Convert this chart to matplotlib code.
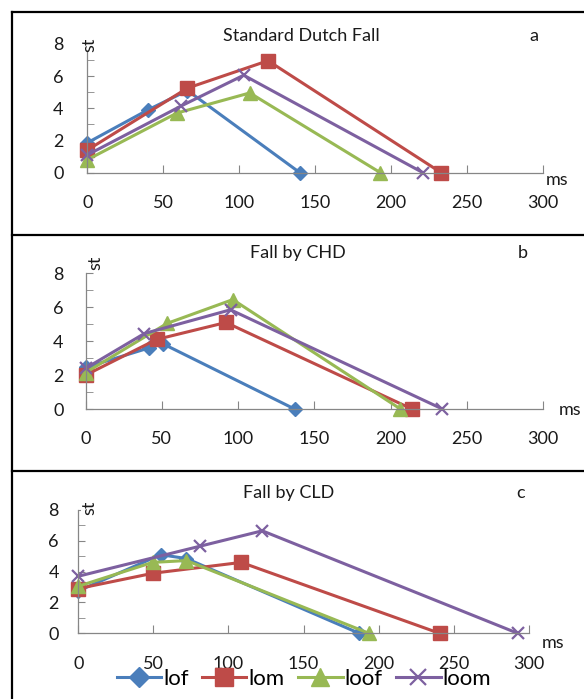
import matplotlib
matplotlib.use("Agg")
import matplotlib.pyplot as plt
from matplotlib.lines import Line2D

plt.rcParams["font.family"] = ["Lato", "DejaVu Sans"]

# Daten ---------------------------------------------------------------------
series = ["lof", "lom", "loof", "loom"]

# a: Standard Dutch Fall
a_lof_x = [0, 40, 66, 140]
a_lof_y = [1.85, 3.9, 5.1, 0]
a_lom_x = [0, 66, 119, 233]
a_lom_y = [1.4, 5.25, 6.95, 0]
a_loof_x = [0, 59, 107, 193]
a_loof_y = [0.8, 3.7, 4.95, 0]
a_loom_x = [0, 62, 103, 221]
a_loom_y = [1.1, 4.15, 6.05, 0]

# b: Fall by CHD
b_lof_x = [0, 41.5, 50.5, 137]
b_lof_y = [2.45, 3.6, 3.85, 0]
b_lom_x = [0, 46.5, 92, 214]
b_lom_y = [2.0, 4.1, 5.1, 0]
b_loof_x = [0, 53.5, 96.5, 206.5]
b_loof_y = [2.15, 5.05, 6.45, 0]
b_loom_x = [0, 38.5, 95, 234]
b_loom_y = [2.4, 4.45, 5.85, 0]

# c: Fall by CLD
c_lof_x = [0, 55, 72, 187]
c_lof_y = [2.75, 5.1, 4.85, 0]
c_lom_x = [0, 50, 108.5, 240.5]
c_lom_y = [2.9, 3.9, 4.6, 0]
c_loof_x = [0, 49.5, 72, 193.5]
c_loof_y = [3.05, 4.6, 4.72, 0]
c_loom_x = [0, 81, 122.5, 292.5]
c_loom_y = [3.7, 5.65, 6.65, 0]

panels = [
    ("Standard Dutch Fall", "a",
     [(a_lof_x, a_lof_y), (a_lom_x, a_lom_y), (a_loof_x, a_loof_y), (a_loom_x, a_loom_y)]),
    ("Fall by CHD", "b",
     [(b_lof_x, b_lof_y), (b_lom_x, b_lom_y), (b_loof_x, b_loof_y), (b_loom_x, b_loom_y)]),
    ("Fall by CLD", "c",
     [(c_lof_x, c_lof_y), (c_lom_x, c_lom_y), (c_loof_x, c_loof_y), (c_loom_x, c_loom_y)]),
]

# Stil (Excel-Farben)
colors = ["#4A7EBB", "#BE4B48", "#98B954", "#7D60A0"]
markers = ["D", "s", "^", "x"]
msizes = [7.5, 9.5, 10, 9]

W, H = 584, 699
fig = plt.figure(figsize=(W / 100, H / 100), dpi=100)

def fx(px):
    return px / W

def fy(py):
    return 1 - py / H

# Achsenlage in Pixeln: (x0, x300, y0, y8)
boxes = [(87.2, 543, 172.7, 43.8), (85.7, 543, 409, 273.3), (78.2, 529, 633.3, 510)]
# Texte: Titel (x, y), Buchstabe (x, y), st (x, y), ms (x, y), Labelabstand
texts = [
    ((301, 36), (534, 36), (89.5, 45), (557, 180), 17),
    ((298, 253), (523, 253), (95, 263), (570, 410), 16),
    ((289, 493), (521, 493), (89, 508), (553, 643), 14),
]

axes = []
for (title, letter, data), (x0, x1, y0, y8), (tpos, lpos, stpos, mspos, ypad) in zip(panels, boxes, texts):
    ax = fig.add_axes([fx(x0), fy(y0), (x1 - x0) / W, (y0 - y8) / H])
    ax.patch.set_alpha(0)
    for (xs, ys), col, mk, ms in zip(data, colors, markers, msizes):
        ax.plot(xs, ys, color=col, lw=2.2, marker=mk, markersize=ms,
                markerfacecolor=col, markeredgecolor=col,
                markeredgewidth=1.6 if mk == "x" else 1, clip_on=False)
    ax.set_xlim(0, 300)
    ax.set_ylim(0, 8)
    ax.set_xticks(range(0, 301, 50))
    ax.set_yticks(range(0, 9, 2))
    ax.set_yticks(range(1, 8, 2), minor=True)
    for s in ["top", "right"]:
        ax.spines[s].set_visible(False)
    for s in ["left", "bottom"]:
        ax.spines[s].set_color("#868686")
        ax.spines[s].set_linewidth(0.9)
    ax.tick_params(axis="x", direction="in", length=6, color="#868686",
                   labelsize=13, pad=16, labelcolor="#1a1a1a")
    ax.tick_params(axis="y", which="both", direction="in", length=5, color="#868686",
                   labelsize=13, pad=ypad, labelcolor="#1a1a1a")
    fig.text(fx(tpos[0]), fy(tpos[1]), title, ha="center", va="center", fontsize=13, color="#1a1a1a")
    fig.text(fx(lpos[0]), fy(lpos[1]), letter, ha="center", va="center", fontsize=13, color="#1a1a1a")
    fig.text(fx(stpos[0]), fy(stpos[1]), "st", ha="center", va="center", rotation=90,
             fontsize=13, color="#1a1a1a", bbox=dict(facecolor="white", edgecolor="none", pad=0))
    fig.text(fx(mspos[0]), fy(mspos[1]), "ms", ha="center", va="center", fontsize=13, color="#1a1a1a")
    axes.append(ax)

# Legende unten (überlappt wie im Original die Achsenbeschriftung)
handles = [Line2D([], [], color=c, lw=2.2, marker=m, markersize=s * 1.3,
                  markerfacecolor=c, markeredgecolor=c,
                  markeredgewidth=1.6 if m == "x" else 1)
           for c, m, s in zip(colors, markers, msizes)]
fig.legend(handles, series, loc="center", bbox_to_anchor=(fx(304), fy(679)), ncol=4,
           frameon=False, fontsize=16, handlelength=2.0, handletextpad=0.1,
           columnspacing=0.6, borderpad=0)

# Rahmenlinien
frame = dict(color="black", lw=1.6, transform=fig.transFigure)
fig.add_artist(Line2D([fx(12), fx(12)], [fy(12), 0], **frame))
fig.add_artist(Line2D([fx(12), 1], [fy(12), fy(12)], **frame))
fig.add_artist(Line2D([fx(12), 1], [fy(235), fy(235)], **frame))
fig.add_artist(Line2D([fx(12), 1], [fy(470.5), fy(470.5)], **frame))

fig.savefig("out.png", dpi=100)
